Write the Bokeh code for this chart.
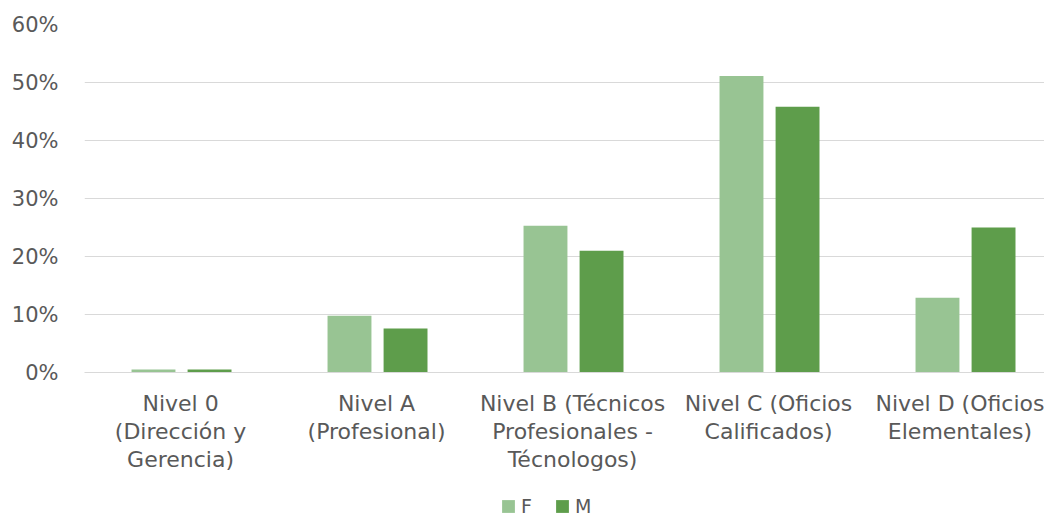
from bokeh.plotting import figure
from bokeh.layouts import column
from bokeh.models import (ColumnDataSource, Range1d, FixedTicker, NumeralTickFormatter,
                          Legend, LegendItem)
from bokeh.transform import dodge
from bokeh.embed import file_html
from bokeh.resources import INLINE

categories = ["Nivel 0\n(Dirección y\nGerencia)",
              "Nivel A\n(Profesional)",
              "Nivel B (Técnicos\nProfesionales -\nTécnologos)",
              "Nivel C (Oficios\nCalificados)",
              "Nivel D (Oficios\nElementales)"]
f_values = [0.005, 0.098, 0.253, 0.511, 0.129]
m_values = [0.005, 0.076, 0.210, 0.458, 0.250]
y_ticks = [0.0, 0.1, 0.2, 0.3, 0.4, 0.5, 0.6]
series = ["F", "M"]

FONT = "DejaVu Sans"
TXT = "#595959"
GRID = "#D9D9D9"
F_COLOR = "#98C493"
M_COLOR = "#5E9D4B"

xs = list(range(len(categories)))
src = ColumnDataSource(dict(x=xs, f=f_values, m=m_values))

p = figure(width=1044, height=487, output_backend="svg", toolbar_location=None,
           x_range=Range1d(-0.49, 4.408), y_range=Range1d(0, 0.6),
           min_border_left=84, min_border_right=0, min_border_top=24,
           min_border_bottom=115)
p.outline_line_color = None
p.background_fill_color = "white"
p.border_fill_color = "white"

p.vbar(x=dodge("x", -0.138), top="f", width=0.224, source=src,
       fill_color=F_COLOR, line_color=None)
p.vbar(x=dodge("x", 0.148), top="m", width=0.224, source=src,
       fill_color=M_COLOR, line_color=None)

# axes
p.xaxis.ticker = FixedTicker(ticks=xs)
p.xaxis.major_label_overrides = {i: c for i, c in enumerate(categories)}
p.xaxis.axis_line_color = GRID
p.xaxis.axis_line_width = 1
p.xaxis.major_tick_line_color = None
p.xaxis.minor_tick_line_color = None
p.xaxis.major_label_text_font = FONT
p.xaxis.major_label_text_font_size = "22px"
p.xaxis.major_label_text_color = TXT
p.xaxis.major_label_text_line_height = 1.133
p.xaxis.major_label_standoff = 12

p.yaxis.ticker = FixedTicker(ticks=y_ticks)
p.yaxis.formatter = NumeralTickFormatter(format="0%")
p.yaxis.axis_line_color = None
p.yaxis.major_tick_line_color = None
p.yaxis.minor_tick_line_color = None
p.yaxis.major_label_text_font = FONT
p.yaxis.major_label_text_font_size = "21px"
p.yaxis.major_label_text_color = TXT
p.yaxis.major_label_standoff = 20

p.xgrid.grid_line_color = None
p.ygrid.grid_line_color = GRID
p.ygrid.grid_line_width = 1

# legend strip below the chart (same bars, kept far outside its visible ranges)
lg = figure(width=1044, height=30, output_backend="svg", toolbar_location=None,
            x_range=Range1d(10, 11), y_range=Range1d(5, 6),
            min_border=0, x_axis_type=None, y_axis_type=None)
lg.outline_line_color = None
lg.xgrid.visible = False
lg.ygrid.visible = False
lf = lg.vbar(x="x", top="f", width=0.224, source=src, fill_color=F_COLOR, line_color=None)
lm = lg.vbar(x="x", top="m", width=0.224, source=src, fill_color=M_COLOR, line_color=None)
legend = Legend(items=[LegendItem(label=series[0], renderers=[lf]),
                       LegendItem(label=series[1], renderers=[lm])],
                orientation="horizontal", location=(416, 0),
                padding=0, margin=0, spacing=13, label_standoff=5,
                glyph_width=16, glyph_height=16,
                label_text_font=FONT, label_text_font_size="19px",
                label_text_color=TXT, border_line_color=None,
                background_fill_alpha=0)
lg.add_layout(legend, "center")

page = column(p, lg, spacing=0)
open("out.html", "w").write(file_html(page, INLINE))
